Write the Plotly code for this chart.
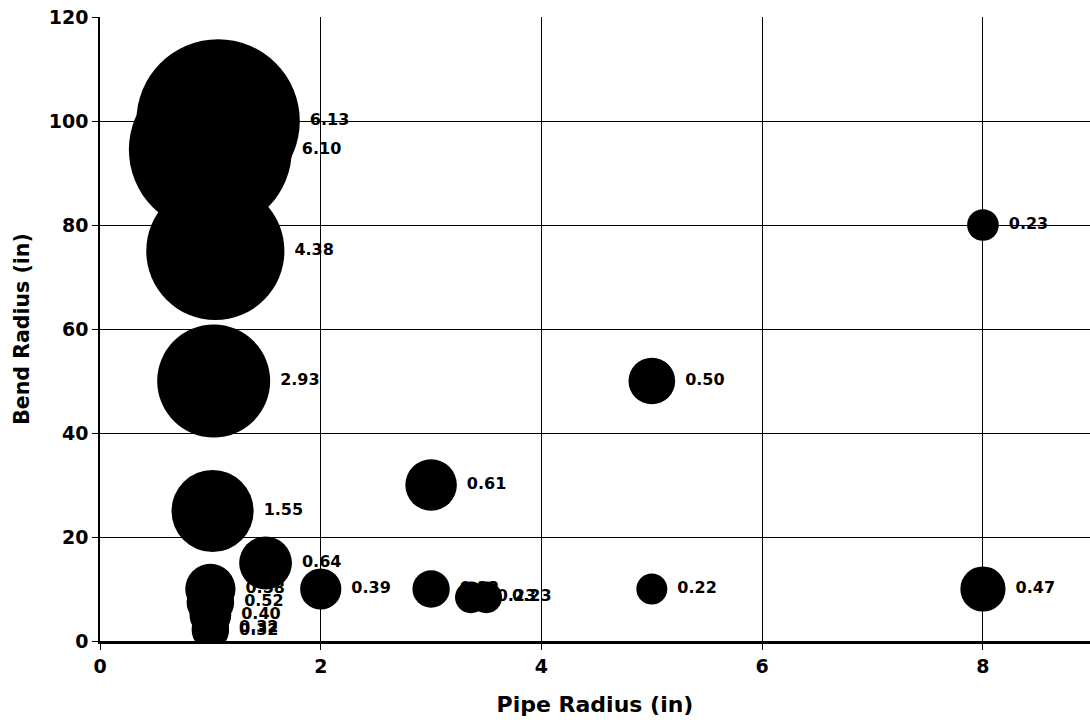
import numpy as np
import plotly.graph_objects as go

# Data (drawing order matters for overlaps)
pipe_radius = [1.07, 1.0, 1.045, 1.03, 1.02, 1.0, 1.0, 1.0, 1.0, 1.0,
               1.5, 2.0, 3.0, 3.0, 3.36, 3.5, 5.0, 5.0, 8.0, 8.0]
bend_radius = [100, 94.5, 75, 50, 25, 10, 7.5, 5, 2.5, 2.0,
               15, 10, 30, 10, 8.4, 8.4, 50, 10, 80, 10]
bubble_value = [6.13, 6.10, 4.38, 2.93, 1.55, 0.58, 0.52, 0.40, 0.32, 0.32,
                0.64, 0.39, 0.61, 0.32, 0.23, 0.23, 0.50, 0.22, 0.23, 0.47]

x_ticks = [0, 2, 4, 6, 8]
y_ticks = [0, 20, 40, 60, 80, 100, 120]

K = 66.0          # px diameter per sqrt(value)
GAP = 10.0        # px between bubble edge and its label

fig = go.Figure()
label_font = dict(family="DejaVu Sans", size=16, color="black", weight="bold")

for xv, yv, v in zip(pipe_radius, bend_radius, bubble_value):
    d = K * np.sqrt(v)
    fig.add_trace(go.Scatter(
        x=[xv], y=[yv], mode="markers",
        marker=dict(size=d, sizemode="diameter", color="black",
                    line=dict(width=0)),
        showlegend=False, hoverinfo="skip"))
    # invisible marker sized so Plotly's text offset equals radius + GAP
    d_lab = 2 * 0.8 * (d / 2 + GAP - 1)
    fig.add_trace(go.Scatter(
        x=[xv], y=[yv], mode="markers+text",
        text=[f"{v:.2f}"], textposition="middle right",
        textfont=label_font,
        marker=dict(size=d_lab, sizemode="diameter", color="rgba(0,0,0,0)",
                    line=dict(width=0)),
        showlegend=False, hoverinfo="skip"))

tick_font = dict(family="DejaVu Sans", size=19, color="black", weight="bold")

fig.update_layout(
    width=1090, height=726,
    margin=dict(l=100, r=0, t=17, b=85, autoexpand=False),
    paper_bgcolor="white", plot_bgcolor="white",
    xaxis=dict(
        range=[0, 8.97], tickvals=x_ticks, ticktext=[str(t) for t in x_ticks],
        showgrid=True, gridcolor="black", gridwidth=1,
        showline=True, linecolor="black", linewidth=2.5,
        ticks="outside", ticklen=6, tickcolor="black", tickwidth=1,
        zeroline=False, tickfont=tick_font,
        title=dict(text="Pipe Radius (in)", standoff=22,
                   font=dict(family="DejaVu Sans", size=22, color="black",
                             weight="bold")),
    ),
    yaxis=dict(
        range=[0, 120], tickvals=y_ticks, ticktext=[str(t) for t in y_ticks],
        showgrid=True, gridcolor="black", gridwidth=1,
        showline=True, linecolor="black", linewidth=1.5,
        ticks="outside", ticklen=6, tickcolor="black", tickwidth=1,
        zeroline=False, tickfont=tick_font,
        title=dict(text="Bend Radius (in)", standoff=14,
                   font=dict(family="DejaVu Sans", size=20.5, color="black",
                             weight="bold")),
    ),
)

fig.write_html("out.html")
